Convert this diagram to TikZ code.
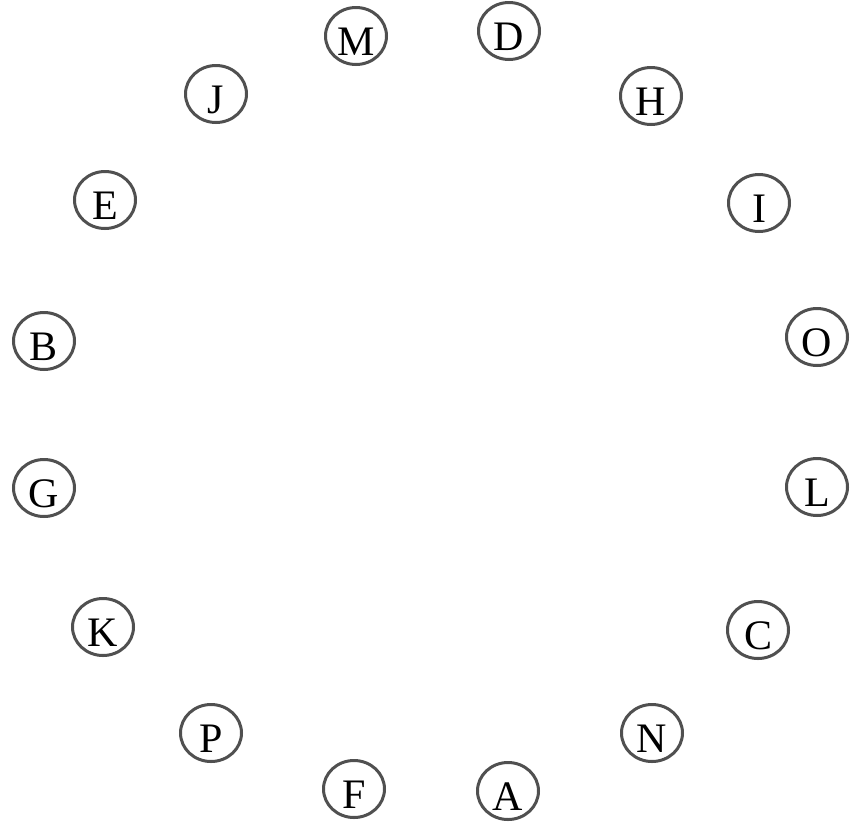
\documentclass[tikz,border=0pt]{standalone}
\usepackage{fontspec}
\setmainfont{Liberation Serif}
\usetikzlibrary{shapes.geometric}
\definecolor{ring}{HTML}{505050}
\tikzset{
  vert/.style={ellipse, draw=ring, line width=3pt, fill=white,
    minimum width=61pt, minimum height=57pt, inner sep=0pt,
    text height=38pt, text depth=0pt,
    font=\fontsize{42}{42}\selectfont}
}
\begin{document}
\begin{tikzpicture}[x=1pt,y=-1pt]
\useasboundingbox (0,0) rectangle (851,825);
\node[vert] (M) at (356,36) {M};
\node[vert] (D) at (509,31) {D};
\node[vert] (J) at (216,94) {J};
\node[vert] (H) at (651,96) {H};
\node[vert] (E) at (105,200) {E};
\node[vert] (I) at (759,203) {I};
\node[vert] (B) at (44,341) {B};
\node[vert] (O) at (817,337) {O};
\node[vert] (G) at (44,488) {G};
\node[vert] (L) at (817,487) {L};
\node[vert] (K) at (103,627) {K};
\node[vert] (C) at (758,630) {C};
\node[vert] (P) at (211,733) {P};
\node[vert] (N) at (652,733) {N};
\node[vert] (F) at (354,789) {F};
\node[vert] (A) at (508,791) {A};
\end{tikzpicture}
\end{document}
